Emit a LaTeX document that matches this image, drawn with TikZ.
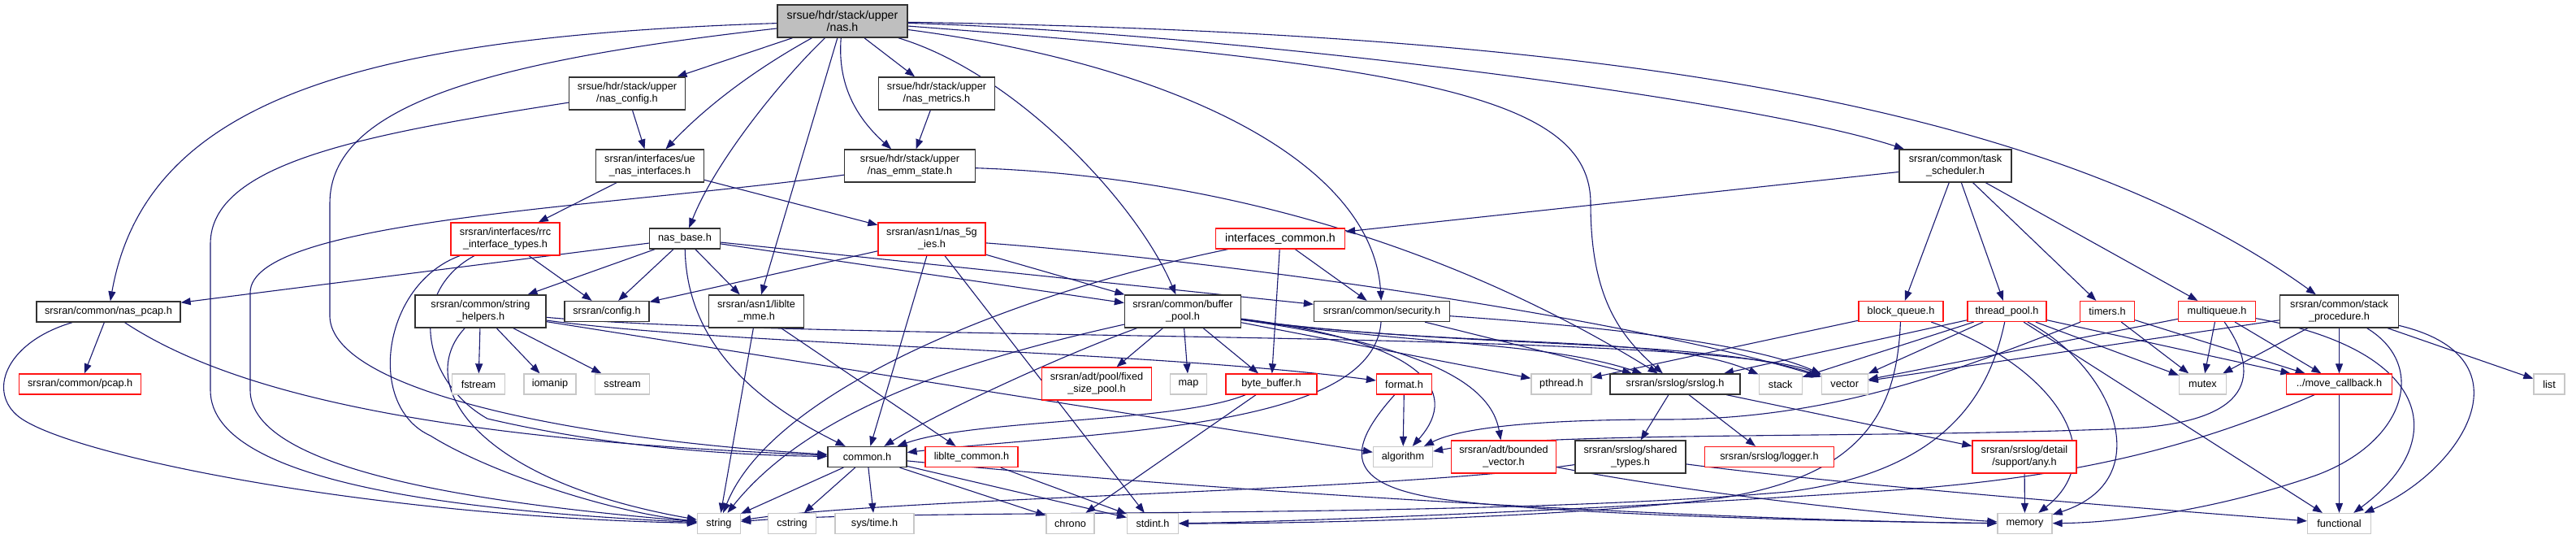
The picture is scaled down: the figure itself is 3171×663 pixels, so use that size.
\documentclass[tikz,border=0pt]{standalone}
\usepackage{fontspec}
\setmainfont{Liberation Sans}
\usetikzlibrary{arrows.meta}
\pgfdeclarelayer{bg}
\pgfsetlayers{bg,main}
\definecolor{edgec}{RGB}{25,25,112}
\definecolor{bordk}{RGB}{50,50,50}
\definecolor{bordr}{RGB}{255,20,20}
\definecolor{bordg}{RGB}{200,200,200}
\definecolor{rootf}{RGB}{191,191,191}
\tikzset{
 nb/.style={draw=bordk, fill=white, line width=1.3pt, inner sep=0pt, align=center, font=\fontsize{12.7pt}{15pt}\selectfont},
 rb/.style={nb, draw=bordr},
 gb/.style={nb, draw=bordg},
 wh/.style 2 args={minimum width=#1pt, minimum height=#2pt},
 edg/.style={draw=edgec, line width=1.1pt, -{Triangle[length=12pt,width=9pt]}},
}
\begin{document}
\begin{tikzpicture}[x=1pt,y=-1pt]
\useasboundingbox (0,0) rectangle (3171,663);
% nodes
\node[nb, wh={160}{40}, fill=rootf, font=\fontsize{14.2pt}{15pt}\selectfont] (nas) at (1037,26) {srsue/hdr/stack/upper\\/nas.h};
\node[nb, wh={143}{40}] (cfg) at (772,115) {srsue/hdr/stack/upper\\/nas\_config.h};
\node[nb, wh={143}{40}] (met) at (1153,115) {srsue/hdr/stack/upper\\/nas\_metrics.h};
\node[nb, wh={133}{40}] (uei) at (800,204) {srsran/interfaces/ue\\\_nas\_interfaces.h};
\node[nb, wh={161}{40}] (emm) at (1120,204) {srsue/hdr/stack/upper\\/nas\_emm\_state.h};
\node[nb, wh={138}{40}] (tsk) at (2407,204) {srsran/common/task\\\_scheduler.h};
\node[rb, wh={134}{40}] (rrc) at (622,294) {srsran/interfaces/rrc\\\_interface\_types.h};
\node[nb, wh={87}{25}] (base) at (843,293.5) {nas\_base.h};
\node[rb, wh={132}{40}] (g5) at (1147,294) {srsran/asn1/nas\_5g\\\_ies.h};
\node[rb, wh={159}{25}, font=\fontsize{14.2pt}{15pt}\selectfont] (ic) at (1576,293.5) {interfaces\_common.h};
\node[nb, wh={177}{25}] (pcapn) at (133.5,383.5) {srsran/common/nas\_pcap.h};
\node[nb, wh={161}{40}] (sh) at (591.5,383) {srsran/common/string\\\_helpers.h};
\node[nb, wh={104}{25}] (conf) at (747,383) {srsran/config.h};
\node[nb, wh={117}{40}] (mme) at (931,383) {srsran/asn1/liblte\\\_mme.h};
\node[nb, wh={143}{40}] (bp) at (1456,383) {srsran/common/buffer\\\_pool.h};
\node[nb, wh={167}{25}] (sec) at (1701,383) {srsran/common/security.h};
\node[rb, wh={104}{25}] (bq) at (2340,383) {block\_queue.h};
\node[rb, wh={97}{25}] (tp) at (2470.5,383) {thread\_pool.h};
\node[rb, wh={67}{25}] (tim) at (2594,383) {timers.h};
\node[rb, wh={95}{25}] (mq) at (2729,383) {multiqueue.h};
\node[nb, wh={146}{40}] (sp) at (2879.5,383) {srsran/common/stack\\\_procedure.h};
\node[rb, wh={150}{25}] (pcap) at (98.7,472.5) {srsran/common/pcap.h};
\node[gb, wh={65}{25}] (fstream) at (589,472.5) {fstream};
\node[gb, wh={64}{25}] (iomanip) at (677,472.5) {iomanip};
\node[gb, wh={67}{25}] (sstream) at (766,472.5) {sstream};
\node[rb, wh={135}{40}] (fsp) at (1350,472) {srsran/adt/pool/fixed\\\_size\_pool.h};
\node[gb, wh={45}{25}] (map) at (1463,472.5) {map};
\node[rb, wh={112}{25}] (bb) at (1565,472.5) {byte\_buffer.h};
\node[rb, wh={68}{25}] (fmt) at (1728.5,472.5) {format.h};
\node[gb, wh={74}{25}] (pth) at (1922,472.5) {pthread.h};
\node[nb, wh={160}{25}] (slog) at (2062,472.5) {srsran/srslog/srslog.h};
\node[gb, wh={53}{25}] (stack) at (2191.7,472.5) {stack};
\node[gb, wh={57}{25}] (vector) at (2270.7,472.5) {vector};
\node[gb, wh={58}{25}] (mutex) at (2711.5,472.5) {mutex};
\node[rb, wh={130}{25}] (mcb) at (2879.5,472.5) {../move\_callback.h};
\node[gb, wh={38}{25}] (list) at (3138,472.5) {list};
\node[nb, wh={97}{25}] (com) at (1067.5,562) {common.h};
\node[rb, wh={114}{25}] (llc) at (1196,562) {liblte\_common.h};
\node[gb, wh={73}{25}] (alg) at (1727,562) {algorithm};
\node[rb, wh={129}{40}] (bv) at (1851,562) {srsran/adt/bounded\\\_vector.h};
\node[nb, wh={136}{40}] (st) at (2007,562) {srsran/srslog/shared\\\_types.h};
\node[rb, wh={159}{25}] (lg) at (2178,562) {srsran/srslog/logger.h};
\node[rb, wh={128}{40}] (any) at (2492,562) {srsran/srslog/detail\\/support/any.h};
\node[gb, wh={53}{25}] (string) at (885,644) {string};
\node[gb, wh={59}{25}] (cstring) at (975,644) {cstring};
\node[gb, wh={97}{25}] (systime) at (1076.5,644) {sys/time.h};
\node[gb, wh={59}{25}] (chrono) at (1317.5,644) {chrono};
\node[gb, wh={63}{25}] (stdint) at (1419,644) {stdint.h};
\node[gb, wh={67}{25}] (memory) at (2492.5,644) {memory};
\node[gb, wh={78}{25}] (functional) at (2879.5,644) {functional};
\begin{pgfonlayer}{bg}
% nas.h
\draw[edg] (nas) .. controls (450,45) and (180,120) .. (pcapn);
\draw[edg] (nas) .. controls (600,75) and (406,130) .. (406,250) -- (406,390) .. controls (410,480) and (700,540) .. (com);
\draw[edg] (nas) -- (cfg);
\draw[edg] (nas) .. controls (930,85) and (870,130) .. (uei);
\draw[edg] (nas) .. controls (960,100) and (880,200) .. (base);
\draw[edg] (nas) -- (mme);
\draw[edg] (nas) -- (met);
\draw[edg] (nas) .. controls (1030,110) and (1060,150) .. (emm);
\draw[edg] (nas) .. controls (1250,90) and (1400,250) .. (bp);
\draw[edg] (nas) .. controls (1450,80) and (1690,200) .. (sec);
\draw[edg] (nas) .. controls (1750,80) and (1958,120) .. (1958,250) .. controls (1958,360) and (1990,410) .. (slog);
\draw[edg] (nas) .. controls (1500,40) and (2150,120) .. (tsk);
\draw[edg] (nas) .. controls (1900,40) and (2500,110) .. (sp);
% nas_config, nas_metrics, nas_emm_state
\draw[edg] (cfg) -- (uei);
\draw[edg] (cfg) .. controls (450,165) and (259,200) .. (259,300) -- (259,480) .. controls (259,600) and (600,630) .. (string);
\draw[edg] (met) -- (emm);
\draw[edg] (emm) .. controls (1450,215) and (1750,280) .. (slog);
\draw[edg] (emm) .. controls (750,255) and (308,270) .. (308,360) -- (308,480) .. controls (308,580) and (600,620) .. (string);
% ue_nas_interfaces, rrc_interface_types
\draw[edg] (uei) -- (rrc);
\draw[edg] (uei) -- (g5);
\draw[edg] (rrc) -- (conf);
\draw[edg] (rrc) .. controls (500,360) and (520,470) .. (600,515) .. controls (750,550) and (900,560) .. (com);
\draw[edg] (rrc) .. controls (470,350) and (450,500) .. (530,536) .. controls (600,580) and (750,630) .. (string);
% nas_base
\draw[edg] (base) -- (pcapn);
\draw[edg] (base) -- (sh);
\draw[edg] (base) -- (conf);
\draw[edg] (base) -- (mme);
\draw[edg] (base) .. controls (845,400) and (900,480) .. (com);
\draw[edg] (base) -- (bp);
\draw[edg] (base) -- (sec);
% nas_5g_ies
\draw[edg] (g5) -- (conf);
\draw[edg] (g5) -- (bp);
\draw[edg] (g5) -- (com);
\draw[edg] (g5) -- (stdint);
\draw[edg] (g5) .. controls (1500,320) and (2000,390) .. (vector);
% task_scheduler, interfaces_common
\draw[edg] (tsk) -- (ic);
\draw[edg] (tsk) -- (bq);
\draw[edg] (tsk) -- (tp);
\draw[edg] (tsk) -- (tim);
\draw[edg] (tsk) -- (mq);
\draw[edg] (ic) -- (bb);
\draw[edg] (ic) -- (sec);
\draw[edg] (ic) .. controls (1250,360) and (950,480) .. (string);
% nas_pcap
\draw[edg] (pcapn) -- (pcap);
\draw[edg] (pcapn) .. controls (280,480) and (520,540) .. (com);
\draw[edg] (pcapn) .. controls (10,420) and (-15,478) .. (20,510) .. controls (72,558) and (450,635) .. (string);
% string_helpers
\draw[edg] (sh) -- (fstream);
\draw[edg] (sh) -- (iomanip);
\draw[edg] (sh) -- (sstream);
\draw[edg] (sh) .. controls (510,470) and (580,590) .. (string);
\draw[edg] (sh) .. controls (1000,420) and (2100,405) .. (vector);
\draw[edg] (sh) .. controls (900,425) and (1400,430) .. (fmt);
\draw[edg] (sh) -- (alg);
% liblte_mme, common, liblte_common
\draw[edg] (mme) -- (string);
\draw[edg] (mme) -- (llc);
\draw[edg] (com) -- (string);
\draw[edg] (com) -- (cstring);
\draw[edg] (com) -- (systime);
\draw[edg] (com) -- (chrono);
\draw[edg] (com) -- (stdint);
\draw[edg] (com) .. controls (1500,605) and (2100,640) .. (memory);
\draw[edg] (llc) -- (stdint);
% buffer_pool
\draw[edg] (bp) -- (fsp);
\draw[edg] (bp) -- (map);
\draw[edg] (bp) -- (bb);
\draw[edg] (bp) .. controls (1300,440) and (1150,510) .. (com);
\draw[edg] (bp) .. controls (1200,440) and (1000,500) .. (string);
\draw[edg] (bp) -- (pth);
\draw[edg] (bp) .. controls (1800,430) and (2050,410) .. (stack);
\draw[edg] (bp) .. controls (1800,430) and (2100,415) .. (vector);
\draw[edg] (bp) .. controls (1750,425) and (1900,420) .. (slog);
\draw[edg] (bp) .. controls (1750,420) and (1800,480) .. (alg);
\draw[edg] (bp) .. controls (1750,425) and (1835,470) .. (bv);
% byte_buffer, security, format, bounded_vector
\draw[edg] (bb) .. controls (1450,520) and (1200,515) .. (com);
\draw[edg] (bb) -- (chrono);
\draw[edg] (sec) .. controls (1690,530) and (1350,530) .. (com);
\draw[edg] (sec) -- (slog);
\draw[edg] (sec) .. controls (1950,400) and (2150,420) .. (vector);
\draw[edg] (fmt) -- (alg);
\draw[edg] (fmt) .. controls (1650,560) and (1660,600) .. (1790,616) .. controls (1950,635) and (2300,642) .. (memory);
\draw[edg] (bv) .. controls (2100,610) and (2350,635) .. (memory);
% srslog, shared_types, any
\draw[edg] (slog) -- (st);
\draw[edg] (slog) -- (lg);
\draw[edg] (slog) -- (any);
\draw[edg] (st) .. controls (1700,605) and (1100,612) .. (string);
\draw[edg] (st) .. controls (2300,600) and (2700,630) .. (functional);
\draw[edg] (any) -- (memory);
% block_queue
\draw[edg] (bq) -- (pth);
\draw[edg] (bq) .. controls (2530,450) and (2600,560) .. (memory);
\draw[edg] (bq) .. controls (2335,500) and (2300,590) .. (2100,615) .. controls (1900,638) and (1600,644) .. (stdint);
% thread_pool
\draw[edg] (tp) -- (slog);
\draw[edg] (tp) -- (stack);
\draw[edg] (tp) -- (vector);
\draw[edg] (tp) .. controls (2450,480) and (2400,580) .. (2200,605) .. controls (1800,640) and (1100,625) .. (string);
\draw[edg] (tp) .. controls (2600,450) and (2660,590) .. (memory);
\draw[edg] (tp) -- (mutex);
\draw[edg] (tp) -- (mcb);
\draw[edg] (tp) -- (functional);
% timers
\draw[edg] (tim) .. controls (2400,460) and (2250,516) .. (2050,516) .. controls (1900,516) and (1800,525) .. (alg);
\draw[edg] (tim) -- (mutex);
\draw[edg] (tim) -- (mcb);
% multiqueue
\draw[edg] (mq) -- (vector);
\draw[edg] (mq) -- (mutex);
\draw[edg] (mq) -- (mcb);
\draw[edg] (mq) .. controls (2990,430) and (3020,540) .. (functional);
\draw[edg] (mq) .. controls (2790,470) and (2760,520) .. (2620,527) .. controls (2300,540) and (1900,530) .. (alg);
% stack_procedure
\draw[edg] (sp) -- (mutex);
\draw[edg] (sp) -- (mcb);
\draw[edg] (sp) -- (list);
\draw[edg] (sp) -- (vector);
\draw[edg] (sp) .. controls (3120,440) and (3030,580) .. (functional);
\draw[edg] (sp) .. controls (2990,450) and (2960,545) .. (2850,585) .. controls (2720,630) and (2600,643) .. (memory);
% move_callback
\draw[edg] (mcb) -- (functional);
\draw[edg] (mcb) .. controls (2700,550) and (2550,590) .. (2300,605) .. controls (2000,625) and (1600,642) .. (stdint);
\end{pgfonlayer}
\end{tikzpicture}
\end{document}
